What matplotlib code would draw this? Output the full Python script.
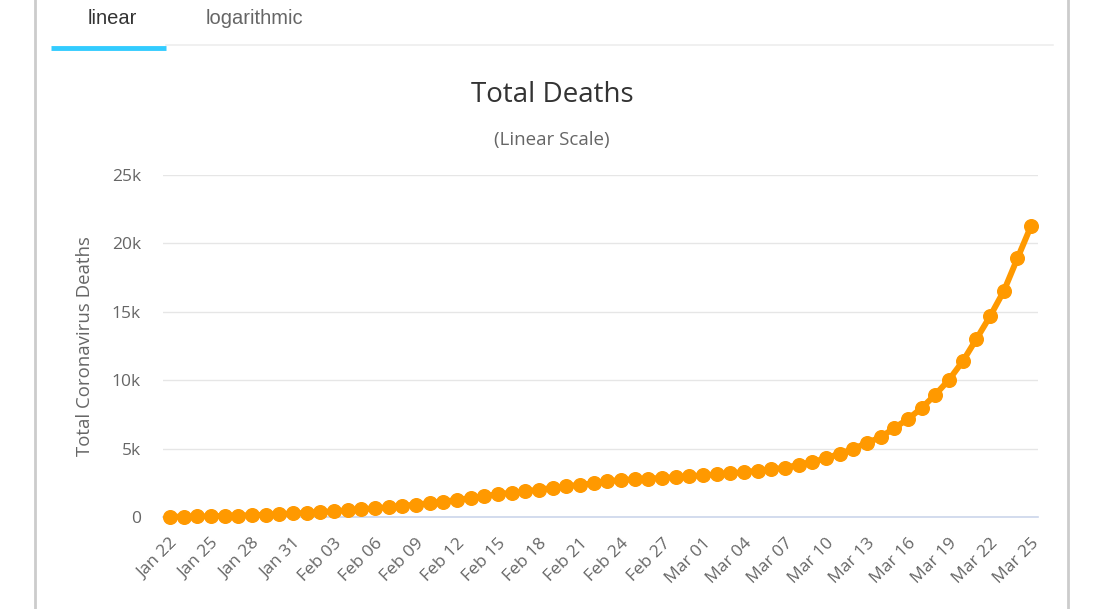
import matplotlib
matplotlib.use("Agg")
import matplotlib.pyplot as plt
from matplotlib.lines import Line2D
import datetime as dt

# total deaths, Jan 22 .. Mar 25 (2020)
start = dt.date(2020, 1, 22)
deaths = [17, 25, 41, 56, 80, 106, 132, 170, 213, 259,
          304, 362, 426, 492, 565, 638, 724, 813, 910, 1018,
          1115, 1261, 1383, 1526, 1669, 1775, 1873, 2009, 2126, 2247,
          2360, 2460, 2618, 2699, 2763, 2800, 2858, 2923, 2977, 3050,
          3117, 3202, 3285, 3387, 3494, 3599, 3827, 4025, 4296, 4628,
          4981, 5428, 5833, 6520, 7162, 7979, 8952, 10046, 11388, 13018,
          14685, 16518, 18918, 21293]
dates = [(start + dt.timedelta(days=i)).strftime("%b %d") for i in range(len(deaths))]
yticks = [0, 5000, 10000, 15000, 20000, 25000]
ytick_labels = ["0", "5k", "10k", "15k", "20k", "25k"]

plt.rcParams['font.family'] = ['Open Sans', 'DejaVu Sans']

fig = plt.figure(figsize=(11, 6.09), dpi=100)
ax = fig.add_axes([163/1100, 1 - 517/609, 875/1100, 342/609])

x = list(range(len(deaths)))
ax.plot(x, deaths, color='#ff9900', lw=4.3, marker='o', ms=9.8, zorder=3, clip_on=False)

ax.set_xlim(-0.5, len(deaths) - 0.5)
ax.set_ylim(0, 25000)
ax.set_yticks(yticks)
ax.set_yticklabels(ytick_labels)
ax.grid(axis='y', color='#e6e6e6', lw=1)
ax.set_axisbelow(True)
for s in ['top', 'right', 'left']:
    ax.spines[s].set_visible(False)
ax.spines['bottom'].set_color('#ccd6eb')
ax.spines['bottom'].set_linewidth(1.2)

ax.set_xticks(x[::3])
ax.set_xticklabels(dates[::3], rotation=45, ha='right', rotation_mode='anchor')
ax.tick_params(axis='x', length=0, pad=13, labelsize=12.5, labelcolor='#666666')
ax.tick_params(axis='y', length=0, pad=16, labelsize=12.5, labelcolor='#666666')
ax.set_ylabel("Total Coronavirus Deaths", fontsize=13.4, color='#666666', labelpad=13)

fig.text(552/1100, 1 - 95/609, "Total Deaths", ha='center', va='center', fontsize=20, color='#333333')
fig.text(552/1100, 1 - 140/609, "(Linear Scale)", ha='center', va='center', fontsize=13.5, color='#666666')

# page frame and tabs
fig.add_artist(Line2D([35/1100, 35/1100], [0, 1], color='#cccccc', lw=2))
fig.add_artist(Line2D([1068/1100, 1068/1100], [0, 1], color='#cccccc', lw=2))
fig.add_artist(Line2D([166/1100, 1053/1100], [1 - 44.5/609] * 2, color='#eeeeee', lw=1.2))
fig.add_artist(Line2D([51/1100, 166/1100], [1 - 48/609] * 2, color='#33ccff', lw=3.5, solid_capstyle='butt'))
fig.text(112/1100, 1 - 18/609, "linear", ha='center', va='center', fontsize=14.5, color='#333333',
         family=['Liberation Sans', 'DejaVu Sans'])
fig.text(254/1100, 1 - 18/609, "logarithmic", ha='center', va='center', fontsize=14.5, color='#666666',
         family=['Liberation Sans', 'DejaVu Sans'])

fig.savefig("out.png", dpi=100)
